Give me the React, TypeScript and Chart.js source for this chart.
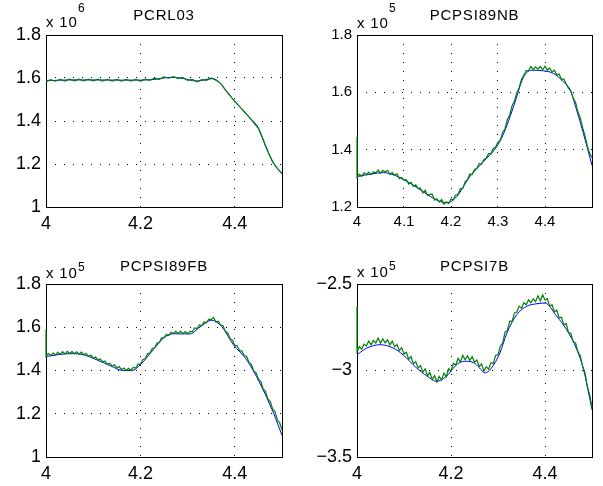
import React, { useEffect, useRef } from "react";
import { Chart, registerables } from "chart.js";

Chart.register(...registerables);

const X_MIN = 4;
const X_MAX = 4.5;
const FONT = "'Liberation Sans', Arial, Helvetica, sans-serif";

// ---------- Panel 1: PCRL03 (x 10^6) ----------
const rl03Title = "PCRL03";
const rl03Exp = "6";
const rl03YTicks = [1, 1.2, 1.4, 1.6, 1.8];
const rl03XTicks = [4, 4.2, 4.4];
const rl03BlueX = [4.0, 4.05, 4.1, 4.15, 4.2, 4.235, 4.263, 4.285, 4.319, 4.353, 4.369, 4.385, 4.4, 4.415, 4.432, 4.45, 4.465, 4.482, 4.5];
const rl03BlueY = [1.587, 1.591, 1.591, 1.59, 1.59, 1.595, 1.603, 1.6, 1.586, 1.597, 1.576, 1.53, 1.492, 1.455, 1.413, 1.368, 1.285, 1.205, 1.155];
const rl03Green = [
  1.583, 1.592, 1.585, 1.594, 1.586, 1.595, 1.587, 1.595, 1.587, 1.595,
  1.587, 1.595, 1.586, 1.594, 1.586, 1.594, 1.586, 1.594, 1.586, 1.594,
  1.586, 1.595, 1.589, 1.599, 1.594, 1.605, 1.599, 1.606, 1.598, 1.602,
  1.589, 1.594, 1.582, 1.592, 1.589, 1.600, 1.590, 1.575, 1.545, 1.518,
  1.490, 1.468, 1.444, 1.419, 1.393, 1.366, 1.313, 1.258, 1.210, 1.180,
  1.155,
];
const rl03Spike: number | null = null;

// ---------- Panel 2: PCPSI89NB (x 10^5) ----------
const nbTitle = "PCPSI89NB";
const nbExp = "5";
const nbYTicks = [1.2, 1.4, 1.6, 1.8];
const nbXTicks = [4, 4.1, 4.2, 4.3, 4.4];
const nbBlueX = [4.0, 4.03, 4.056, 4.084, 4.113, 4.141, 4.17, 4.191, 4.212, 4.24, 4.269, 4.297, 4.311, 4.333, 4.354, 4.372, 4.397, 4.418, 4.439, 4.453, 4.467, 4.482, 4.5];
const nbBlueY = [1.306, 1.315, 1.32, 1.308, 1.283, 1.253, 1.224, 1.215, 1.236, 1.306, 1.358, 1.41, 1.452, 1.55, 1.652, 1.677, 1.675, 1.666, 1.637, 1.61, 1.54, 1.455, 1.345];
const nbGreen = [
  1.304, 1.314, 1.307, 1.319, 1.313, 1.322, 1.313, 1.323, 1.319, 1.329,
  1.318, 1.328, 1.322, 1.328, 1.314, 1.320, 1.311, 1.316, 1.299, 1.303,
  1.293, 1.295, 1.280, 1.286, 1.272, 1.277, 1.265, 1.266, 1.249, 1.258,
  1.240, 1.244, 1.245, 1.224, 1.229, 1.217, 1.226, 1.210, 1.218, 1.212,
  1.228, 1.225, 1.242, 1.244, 1.264, 1.265, 1.288, 1.295, 1.315, 1.313,
  1.331, 1.335, 1.352, 1.349, 1.366, 1.370, 1.387, 1.385, 1.404, 1.409,
  1.426, 1.434, 1.461, 1.473, 1.505, 1.521, 1.553, 1.569, 1.599, 1.616,
  1.646, 1.659, 1.676, 1.675, 1.690, 1.680, 1.689, 1.681, 1.690, 1.678,
  1.691, 1.677, 1.685, 1.671, 1.677, 1.660, 1.664, 1.645, 1.647, 1.630,
  1.614, 1.606, 1.580, 1.565, 1.532, 1.512, 1.477, 1.449, 1.413, 1.388,
  1.372,
];
const nbSpike: number | null = 1.445;

// ---------- Panel 3: PCPSI89FB (x 10^5) ----------
const fbTitle = "PCPSI89FB";
const fbExp = "5";
const fbYTicks = [1, 1.2, 1.4, 1.6, 1.8];
const fbXTicks = [4, 4.2, 4.4];
const fbBlueX = [4.0, 4.051, 4.079, 4.107, 4.136, 4.164, 4.182, 4.2, 4.227, 4.249, 4.27, 4.305, 4.326, 4.351, 4.372, 4.397, 4.425, 4.453, 4.482, 4.5];
const fbBlueY = [1.465, 1.478, 1.473, 1.45, 1.422, 1.4, 1.4, 1.427, 1.496, 1.55, 1.57, 1.569, 1.601, 1.632, 1.604, 1.519, 1.45, 1.342, 1.203, 1.1];
const fbGreen = [
  1.466, 1.478, 1.469, 1.481, 1.472, 1.484, 1.475, 1.487, 1.477, 1.489,
  1.479, 1.488, 1.478, 1.487, 1.476, 1.485, 1.473, 1.479, 1.465, 1.471,
  1.457, 1.462, 1.448, 1.453, 1.439, 1.444, 1.429, 1.434, 1.420, 1.426,
  1.412, 1.418, 1.404, 1.411, 1.400, 1.410, 1.401, 1.414, 1.411, 1.429,
  1.428, 1.451, 1.454, 1.477, 1.480, 1.502, 1.504, 1.527, 1.529, 1.551,
  1.552, 1.567, 1.562, 1.577, 1.571, 1.581, 1.571, 1.581, 1.570, 1.580,
  1.570, 1.581, 1.579, 1.597, 1.594, 1.611, 1.608, 1.624, 1.621, 1.637,
  1.635, 1.645, 1.624, 1.628, 1.610, 1.607, 1.581, 1.574, 1.547, 1.540,
  1.516, 1.514, 1.492, 1.490, 1.468, 1.466, 1.437, 1.428, 1.398, 1.390,
  1.360, 1.350, 1.315, 1.304, 1.268, 1.258, 1.222, 1.211, 1.172, 1.158,
  1.125,
];
const fbSpike: number | null = 1.59;

// ---------- Panel 4: PCPSI7B (x 10^5) ----------
const s7Title = "PCPSI7B";
const s7Exp = "5";
const s7YTicks = [-3.5, -3, -2.5];
const s7XTicks = [4, 4.2, 4.4];
const s7BlueX = [4.0, 4.021, 4.049, 4.077, 4.098, 4.127, 4.155, 4.169, 4.19, 4.212, 4.229, 4.247, 4.261, 4.272, 4.286, 4.304, 4.319, 4.34, 4.361, 4.383, 4.4, 4.425, 4.446, 4.468, 4.482, 4.5];
const s7BlueY = [-2.909, -2.87, -2.851, -2.87, -2.909, -2.986, -3.043, -3.063, -3.034, -2.966, -2.947, -2.953, -2.986, -3.014, -2.986, -2.899, -2.783, -2.677, -2.629, -2.614, -2.61, -2.687, -2.764, -2.88, -2.994, -3.227];
const s7Green = [
  -2.890, -2.862, -2.877, -2.848, -2.858, -2.830, -2.851, -2.826, -2.841, -2.812,
  -2.842, -2.818, -2.840, -2.822, -2.852, -2.830, -2.862, -2.850, -2.885, -2.868,
  -2.905, -2.895, -2.935, -2.920, -2.962, -2.948, -2.985, -2.972, -3.010, -2.990,
  -3.030, -3.012, -3.052, -3.030, -3.066, -3.035, -3.055, -3.015, -3.036, -2.990,
  -3.004, -2.958, -2.970, -2.930, -2.950, -2.912, -2.938, -2.915, -2.942, -2.920,
  -2.952, -2.940, -2.978, -2.962, -3.004, -2.978, -2.992, -2.955, -2.960, -2.912,
  -2.910, -2.858, -2.842, -2.778, -2.768, -2.715, -2.716, -2.668, -2.662, -2.628,
  -2.640, -2.608, -2.620, -2.592, -2.608, -2.585, -2.602, -2.568, -2.598, -2.562,
  -2.592, -2.585, -2.628, -2.620, -2.662, -2.650, -2.696, -2.692, -2.736, -2.728,
  -2.780, -2.785, -2.834, -2.840, -2.892, -2.915, -2.975, -3.012, -3.092, -3.140,
  -3.215,
];
const s7Spike: number | null = -2.63;

type Panel = {
  title: string;
  exp: string;
  yTicks: number[];
  xTicks: number[];
  blueX: number[];
  blueY: number[];
  green: number[];
  spike: number | null;
  left: number;
  top: number;
  width: number;
  height: number;
  plotLeft: number;
  plotTop: number;
  plotRight: number;
  plotBottom: number;
  tickSize: number;
  titleBase: number;
  expBase: number;
  supBase: number;
};

const PANELS: Panel[] = [
  {
    title: rl03Title, exp: rl03Exp, yTicks: rl03YTicks, xTicks: rl03XTicks,
    blueX: rl03BlueX, blueY: rl03BlueY, green: rl03Green, spike: rl03Spike,
    left: 0, top: 0, width: 301, height: 243,
    plotLeft: 46, plotTop: 35, plotRight: 282, plotBottom: 207,
    tickSize: 18, titleBase: 20, expBase: 27, supBase: 12,
  },
  {
    title: nbTitle, exp: nbExp, yTicks: nbYTicks, xTicks: nbXTicks,
    blueX: nbBlueX, blueY: nbBlueY, green: nbGreen, spike: nbSpike,
    left: 301, top: 0, width: 302, height: 243,
    plotLeft: 357, plotTop: 35, plotRight: 592, plotBottom: 207,
    tickSize: 15, titleBase: 20, expBase: 28, supBase: 12,
  },
  {
    title: fbTitle, exp: fbExp, yTicks: fbYTicks, xTicks: fbXTicks,
    blueX: fbBlueX, blueY: fbBlueY, green: fbGreen, spike: fbSpike,
    left: 0, top: 243, width: 301, height: 243,
    plotLeft: 46, plotTop: 284, plotRight: 282, plotBottom: 457,
    tickSize: 18, titleBase: 271, expBase: 278, supBase: 270.5,
  },
  {
    title: s7Title, exp: s7Exp, yTicks: s7YTicks, xTicks: s7XTicks,
    blueX: s7BlueX, blueY: s7BlueY, green: s7Green, spike: s7Spike,
    left: 301, top: 243, width: 302, height: 243,
    plotLeft: 357, plotTop: 284, plotRight: 592, plotBottom: 457,
    tickSize: 18, titleBase: 271, expBase: 277, supBase: 270,
  },
];

const fmt = (v: number) => String(v).replace("-", "\u2212");

function decorPlugin(p: Panel) {
  return {
    id: "matlabDecor",
    beforeDatasetsDraw(chart: any) {
      const { ctx, chartArea: a } = chart;
      ctx.save();
      ctx.strokeStyle = "#000";
      ctx.lineWidth = 1;
      ctx.setLineDash([]);
      ctx.strokeRect(a.left + 0.5, a.top + 0.5, a.right - a.left, a.bottom - a.top);
      ctx.restore();
    },
    afterDraw(chart: any) {
      const { ctx } = chart;
      ctx.save();
      ctx.fillStyle = "#000";
      ctx.textBaseline = "alphabetic";
      ctx.font = `15px ${FONT}`;
      (ctx as any).letterSpacing = "0.8px";
      ctx.textAlign = "center";
      ctx.fillText(p.title, (p.plotLeft + p.plotRight) / 2 - p.left, p.titleBase - p.top);
      ctx.textAlign = "left";
      const base = "x 10";
      const bx = p.plotLeft - p.left;
      ctx.fillText(base, bx, p.expBase - p.top);
      const w = ctx.measureText(base).width;
      ctx.font = `12px ${FONT}`;
      (ctx as any).letterSpacing = "0px";
      ctx.fillText(p.exp, bx + w + 0.5, p.supBase - p.top);
      ctx.restore();
    },
  };
}

function makeChart(canvas: HTMLCanvasElement, p: Panel) {
  const n = p.green.length;
  const greenPts = p.green.map((y, i) => ({ x: X_MIN + (i * (X_MAX - X_MIN)) / (n - 1), y }));
  if (p.spike !== null) greenPts.unshift({ x: X_MIN, y: p.spike });
  const bluePts = p.blueX.map((x, i) => ({ x, y: p.blueY[i] }));
  const font = { family: FONT, size: p.tickSize };
  const yMin = p.yTicks[0];
  const yMax = p.yTicks[p.yTicks.length - 1];

  return new Chart(canvas, {
    type: "line",
    data: {
      datasets: [
        {
          data: greenPts,
          borderColor: "#008000",
          borderWidth: 1.2,
          pointRadius: 0,
          tension: 0,
          clip: 2,
          order: 0,
        },
        {
          data: bluePts,
          borderColor: "#0000ff",
          borderWidth: 1,
          pointRadius: 0,
          cubicInterpolationMode: "monotone",
          order: 1,
        },
      ],
    },
    options: {
      animation: false,
      responsive: false,
      devicePixelRatio: 1,
      events: [],
      layout: {
        padding: {
          left: 0,
          top: p.plotTop - p.top,
          right: p.left + p.width - p.plotRight,
          bottom: 0,
        },
      },
      plugins: {
        legend: { display: false },
        tooltip: { enabled: false },
        title: { display: false },
      },
      scales: {
        x: {
          type: "linear",
          min: X_MIN,
          max: X_MAX,
          afterFit: (s: any) => {
            s.height = p.top + p.height - p.plotBottom;
          },
          afterBuildTicks: (s: any) => {
            s.ticks = p.xTicks.map((v) => ({ value: v }));
          },
          ticks: {
            font,
            color: "#000",
            padding: 6,
            maxRotation: 0,
            autoSkip: false,
            callback: (v: any) => fmt(Number(v)),
          },
          grid: { color: "#000", lineWidth: 1, drawTicks: false },
          border: { display: false, dash: [1, 8] },
        },
        y: {
          type: "linear",
          min: yMin,
          max: yMax,
          afterFit: (s: any) => {
            s.width = p.plotLeft - p.left;
          },
          afterBuildTicks: (s: any) => {
            s.ticks = p.yTicks.map((v) => ({ value: v }));
          },
          ticks: {
            font,
            color: "#000",
            padding: 5,
            autoSkip: false,
            callback: (v: any) => fmt(Number(v)),
          },
          grid: { color: "#000", lineWidth: 1, drawTicks: false },
          border: { display: false, dash: [1, 8] },
        },
      },
    } as any,
    plugins: [decorPlugin(p)],
  });
}

export default function App() {
  const r0 = useRef<HTMLCanvasElement | null>(null);
  const r1 = useRef<HTMLCanvasElement | null>(null);
  const r2 = useRef<HTMLCanvasElement | null>(null);
  const r3 = useRef<HTMLCanvasElement | null>(null);
  const refs = [r0, r1, r2, r3];

  useEffect(() => {
    const charts = PANELS.map((p, i) => makeChart(refs[i].current as HTMLCanvasElement, p));
    return () => charts.forEach((c) => c.destroy());
  }, []);

  return (
    <div style={{ position: "absolute", left: 0, top: 0, width: 603, height: 486, background: "#fff" }}>
      {PANELS.map((p, i) => (
        <canvas
          key={i}
          ref={refs[i]}
          width={p.width}
          height={p.height}
          style={{ position: "absolute", left: p.left, top: p.top, width: p.width, height: p.height }}
        />
      ))}
    </div>
  );
}
